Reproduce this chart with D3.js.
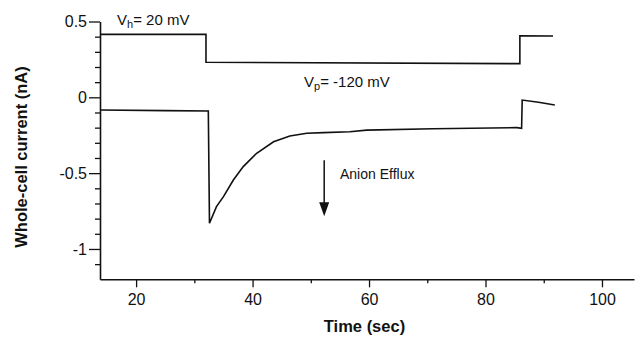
<!DOCTYPE html>
<html>
<head>
<meta charset="utf-8">
<script src="https://cdn.jsdelivr.net/npm/d3@7"></script>
<style>
  html, body { margin: 0; padding: 0; background: #fff; }
  svg { display: block; }
  text { font-family: "Liberation Sans", Arial, Helvetica, sans-serif; fill: #111; }
</style>
</head>
<body>
<svg id="chart" width="635" height="337"></svg>
<script>
// ---- data ----
const xTicks = [20, 40, 60, 80, 100];
const xMinorTicks = [30, 50, 70, 90];
const yTicks = [0.5, 0, -0.5, -1];
const yTickLabels = ["0.5", "0", "-0.5", "-1"];
const yMinorTicks = [0.4, 0.3, 0.2, 0.1, -0.1, -0.2, -0.3, -0.4, -0.6, -0.7, -0.8, -0.9, -1.1];

// upper trace (holding / pulse level)
const topTime    = [13.8, 32.0, 32.0, 85.9, 85.9, 91.6];
const topCurrent = [0.415, 0.415, 0.231, 0.222, 0.406, 0.404];

// lower trace (whole-cell current)
const bottomTime = [13.8, 25, 32.4, 32.6, 33.8, 35.0, 36.7, 38.4, 40.7, 43.6, 46.4, 49.3, 52.2, 56.7, 59.6, 71.0, 85.4, 86.2, 86.3, 89.1, 91.9];
const bottomCurrent = [-0.084, -0.088, -0.09, -0.83, -0.721, -0.655, -0.545, -0.457, -0.369, -0.293, -0.255, -0.237, -0.233, -0.227, -0.216, -0.207, -0.2, -0.205, -0.018, -0.033, -0.051];

// annotation arrow (time, current)
const arrowTime = [52.3, 52.3];
const arrowCurrent = [-0.415, -0.785];

// ---- drawing ----
const svg = d3.select("#chart");
const x = d3.scaleLinear().domain([13.8, 105.5]).range([100, 634]);
const y = d3.scaleLinear().domain([-1.2, 0.5]).range([279.3, 21.5]);

const ink = "#111";

// x axis
const gx = svg.append("g").attr("transform", `translate(0,${y(-1.2)})`);
gx.call(d3.axisBottom(x).tickValues(xTicks).tickSize(8).tickSizeOuter(0).tickPadding(6));
gx.append("g").call(d3.axisBottom(x).tickValues(xMinorTicks).tickSize(4).tickFormat(""));
gx.selectAll(".domain").attr("stroke", ink).attr("stroke-width", 1.6);
gx.selectAll(".tick line").attr("stroke", ink).attr("stroke-width", 1.3);
gx.selectAll("g > g .domain").remove();
gx.selectAll(".tick text").attr("font-size", 16).attr("fill", ink)
  .attr("font-family", "Liberation Sans, Arial, sans-serif");

// y axis
const gy = svg.append("g").attr("transform", `translate(${x(13.8)},0)`);
gy.call(d3.axisLeft(y).tickValues(yTicks).tickFormat((d, i) => yTickLabels[i]).tickSize(11).tickSizeOuter(0).tickPadding(2));
gy.append("g").call(d3.axisLeft(y).tickValues(yMinorTicks).tickSize(5).tickFormat(""));
gy.selectAll(".domain").attr("stroke", ink).attr("stroke-width", 1.6);
gy.selectAll(".tick line").attr("stroke", ink).attr("stroke-width", 1.3);
gy.selectAll("g > g .domain").remove();
gy.selectAll(".tick text").attr("font-size", 16).attr("fill", ink)
  .attr("font-family", "Liberation Sans, Arial, sans-serif");

// traces
const line = d3.line().x(d => x(d[0])).y(d => y(d[1]));
svg.append("path")
  .datum(d3.zip(topTime, topCurrent))
  .attr("d", line).attr("fill", "none").attr("stroke", ink).attr("stroke-width", 1.6);
svg.append("path")
  .datum(d3.zip(bottomTime, bottomCurrent))
  .attr("d", line).attr("fill", "none").attr("stroke", ink).attr("stroke-width", 1.6);

// arrow
const ax = x(arrowTime[0]), ay0 = y(arrowCurrent[0]), ay1 = y(arrowCurrent[1]);
svg.append("line").attr("x1", ax).attr("x2", ax).attr("y1", ay0).attr("y2", ay1 - 12)
  .attr("stroke", ink).attr("stroke-width", 1.5);
svg.append("path")
  .attr("d", `M${ax - 5},${ay1 - 14} L${ax + 5},${ay1 - 14} L${ax},${ay1} Z`)
  .attr("fill", ink);

// annotations
const vh = svg.append("text").attr("x", 117).attr("y", 25).attr("font-size", 15);
vh.append("tspan").text("V");
vh.append("tspan").attr("font-size", 11).attr("dy", 3).text("h");
vh.append("tspan").attr("dy", -3).text("= 20 mV");

const vp = svg.append("text").attr("x", 304).attr("y", 87).attr("font-size", 15);
vp.append("tspan").text("V");
vp.append("tspan").attr("font-size", 11).attr("dy", 3).text("p");
vp.append("tspan").attr("dy", -3).text("= -120 mV");

svg.append("text").attr("x", 340).attr("y", 179).attr("font-size", 14).text("Anion Efflux");

// axis titles
svg.append("text")
  .attr("x", 364.5).attr("y", 332)
  .attr("text-anchor", "middle").attr("font-size", 16.5).attr("font-weight", "bold")
  .text("Time (sec)");
svg.append("text")
  .attr("transform", "translate(27,157) rotate(-90)")
  .attr("text-anchor", "middle").attr("font-size", 16.5).attr("font-weight", "bold")
  .text("Whole-cell current (nA)");
</script>
</body>
</html>
